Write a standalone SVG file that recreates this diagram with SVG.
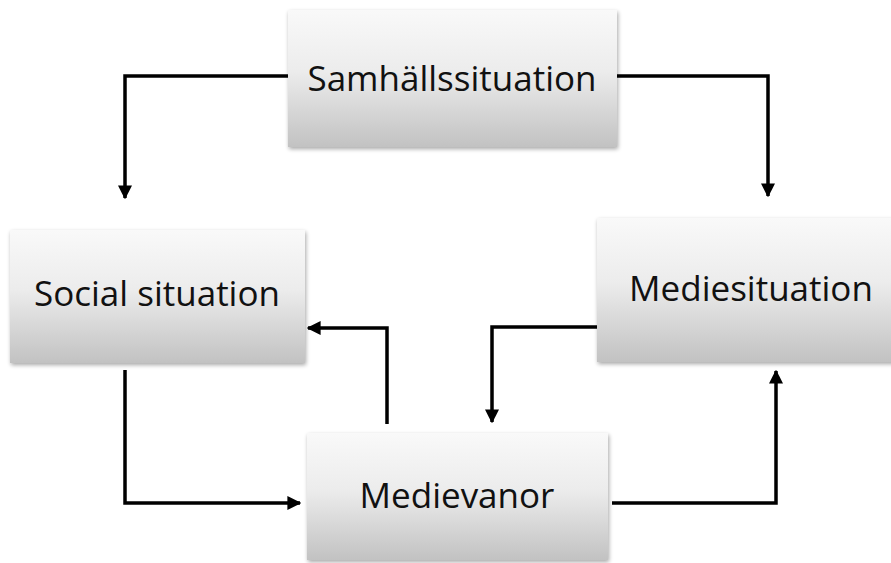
<svg xmlns="http://www.w3.org/2000/svg" width="891" height="563" viewBox="0 0 891 563">
<defs>
<linearGradient id="g" x1="0" y1="0" x2="0" y2="1">
<stop offset="0" stop-color="#f9f9f9"/>
<stop offset="0.45" stop-color="#ececec"/>
<stop offset="1" stop-color="#c2c2c2"/>
</linearGradient>
<filter id="sh" x="-5%" y="-5%" width="115%" height="120%">
<feGaussianBlur in="SourceAlpha" stdDeviation="2"/>
<feOffset dx="1" dy="2"/>
<feComponentTransfer><feFuncA type="linear" slope="0.35"/></feComponentTransfer>
<feMerge><feMergeNode/><feMergeNode in="SourceGraphic"/></feMerge>
</filter>
<marker id="a" viewBox="0 0 10 10" refX="9" refY="5" markerWidth="4" markerHeight="4" orient="auto" markerUnits="strokeWidth">
<path d="M0,0 L10,5 L0,10 z" fill="#000"/>
</marker>
</defs>
<style>
.box{fill:url(#g);filter:url(#sh)}
.t{font-family:"Open Sans","Noto Sans",sans-serif;font-size:35px;fill:#111;text-anchor:middle}
.c{fill:none;stroke:#000;stroke-width:3.5;marker-end:url(#a)}
</style>
<rect width="891" height="563" fill="#fff"/>
<g id="connectors">
<path class="c" d="M288,76 H125 V198"/>
<path class="c" d="M617,76 H768 V196"/>
<path class="c" d="M387,424 V328 H308"/>
<path class="c" d="M597,327 H492 V422"/>
<path class="c" d="M125,370 V503 H300"/>
<path class="c" d="M612,503 H776 V371"/>
</g>
<g id="samhallssituation">
<rect class="box" x="288" y="10" width="329" height="137"/>
<text class="t" x="452" y="91">Samhällssituation</text>
</g>
<g id="social-situation">
<rect class="box" x="10" y="230" width="295" height="133"/>
<text class="t" x="157" y="306">Social situation</text>
</g>
<g id="mediesituation">
<rect class="box" x="597" y="218" width="310" height="144"/>
<text class="t" x="751" y="301">Mediesituation</text>
</g>
<g id="medievanor">
<rect class="box" x="307" y="433" width="301" height="127"/>
<text class="t" x="457" y="508">Medievanor</text>
</g>
</svg>
